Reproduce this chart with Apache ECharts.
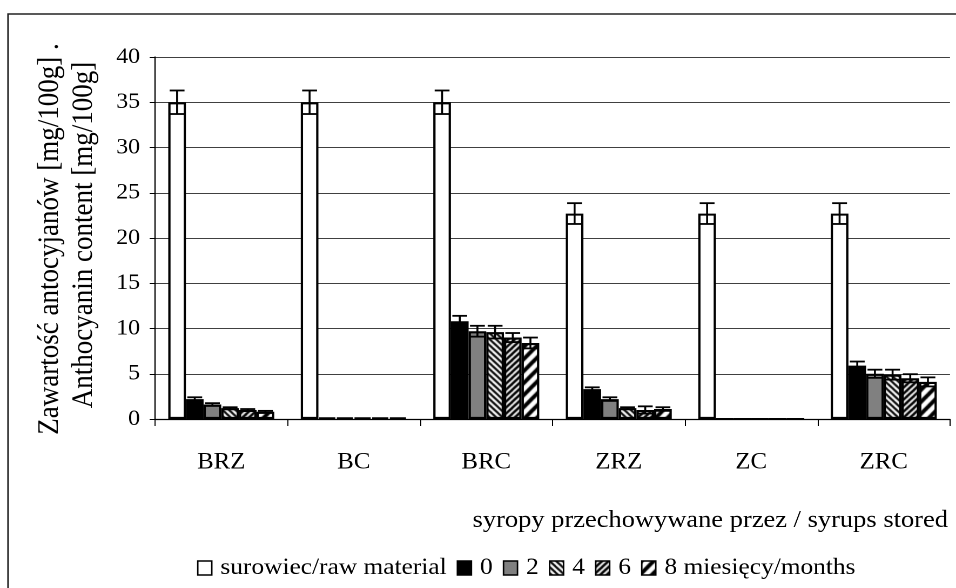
<!DOCTYPE html>
<html><head><meta charset="utf-8">
<script src="https://cdn.jsdelivr.net/npm/echarts@6/dist/echarts.min.js"></script>
<style>
html,body{margin:0;padding:0;background:#fff;overflow:hidden;width:956px;height:588px}
#c{width:885px;height:588px;transform:scaleX(1.08023);transform-origin:0 0}
</style>
</head><body><div id="c"></div>
<script>
const categories = ['BRZ', 'BC', 'BRC', 'ZRZ', 'ZC', 'ZRC'];
const seriesNames = ['surowiec/raw material', '0', '2', '4', '6', '8 miesięcy/months'];
const rawVals = [35, 35, 35, 22.7, 22.7, 22.7];
const rawErr = [1.3, 1.3, 1.3, 1.15, 1.15, 1.15];
const m0Vals = [2.2, 0.15, 10.8, 3.3, 0, 5.9];
const m0Err = [0.2, 0, 0.6, 0.2, 0, 0.45];
const m2Vals = [1.6, 0.15, 9.7, 2.2, 0, 5.0];
const m2Err = [0.15, 0, 0.6, 0.2, 0, 0.45];
const m4Vals = [1.2, 0.15, 9.6, 1.2, 0, 4.9];
const m4Err = [0.1, 0, 0.7, 0.1, 0, 0.55];
const m6Vals = [1.0, 0.15, 9.0, 1.0, 0, 4.5];
const m6Err = [0.1, 0, 0.5, 0.4, 0, 0.45];
const m8Vals = [0.8, 0.15, 8.4, 1.1, 0, 4.1];
const m8Err = [0.1, 0, 0.6, 0.2, 0, 0.5];
const yTicks = [0, 5, 10, 15, 20, 25, 30, 35, 40];

const vals = [rawVals, m0Vals, m2Vals, m4Vals, m6Vals, m8Vals];
const errs = [rawErr, m0Err, m2Err, m4Err, m6Err, m8Err];

const SX = 956 / 885; // slight horizontal stretch of the page, as in the source picture
function px(x) { return x / SX; }

function pat(w, h, draw) {
  const c = document.createElement('canvas');
  c.width = w; c.height = h;
  const g = c.getContext('2d');
  g.fillStyle = '#fff'; g.fillRect(0, 0, w, h);
  g.strokeStyle = '#000';
  draw(g, w, h);
  return c;
}
// 4: "\" stripes
const p4 = pat(6, 6, (g, w, h) => {
  g.lineWidth = 2;
  for (let k = -1; k <= 1; k++) { g.beginPath(); g.moveTo(k * w - 1, -1); g.lineTo(k * w + w + 1, h + 1); g.stroke(); }
});
// 6: "/" stripes, dense
const p6 = pat(6, 6, (g, w, h) => {
  g.lineWidth = 2.4;
  for (let k = -1; k <= 1; k++) { g.beginPath(); g.moveTo(k * w - 1, h + 1); g.lineTo(k * w + w + 1, -1); g.stroke(); }
});
// 8: wide "/" stripes
const p8 = pat(11, 12, (g, w, h) => {
  g.lineWidth = 3.8;
  for (let k = -1; k <= 1; k++) { g.beginPath(); g.moveTo(k * w - 2, h + 2.2); g.lineTo(k * w + w + 2, -2.2); g.stroke(); }
});

const fills = ['#ffffff', '#000000', '#808080', { image: p4, repeat: 'repeat' }, { image: p6, repeat: 'repeat' }, { image: p8, repeat: 'repeat' }];
const FONT = 'Liberation Serif';
const N = 6, CAT_GAP = 0.2;

const series = [];
for (let i = 0; i < N; i++) {
  series.push({
    name: seriesNames[i], type: 'bar', data: vals[i],
    barGap: '0%', barCategoryGap: '20%',
    itemStyle: { color: fills[i], borderColor: '#000', borderWidth: 2.1 },
    emphasis: { disabled: true }, z: 2
  });
}
for (let i = 0; i < N; i++) {
  const d = categories.map((c, j) => [j, vals[i][j], errs[i][j]]);
  series.push({
    type: 'custom', name: 'err' + i, data: d, z: 5, silent: true,
    encode: { x: 0, y: 1 },
    renderItem: (params, api) => {
      const c = api.value(0), v = api.value(1), e = api.value(2);
      if (!e) return;
      const band = api.size([1, 0])[0];
      const w = band * (1 - CAT_GAP) / N;
      const cx = api.coord([c, 0])[0] - band * (1 - CAT_GAP) / 2 + w * (i + 0.5);
      const yT = api.coord([c, v + e])[1], yB = api.coord([c, v - e])[1];
      const hw = w * 0.42;
      const st = { stroke: '#000', lineWidth: 1.8 };
      return { type: 'group', children: [
        { type: 'line', shape: { x1: cx, y1: yT, x2: cx, y2: yB }, style: st },
        { type: 'line', shape: { x1: cx - hw, y1: yT, x2: cx + hw, y2: yT }, style: st },
        { type: 'line', shape: { x1: cx - hw, y1: yB, x2: cx + hw, y2: yB }, style: st }
      ]};
    }
  });
}

const chart = echarts.init(document.getElementById('c'), null, { renderer: 'canvas', devicePixelRatio: 2 });
chart.setOption({
  animation: false,
  backgroundColor: '#fff',
  textStyle: { fontFamily: FONT },
  grid: { left: px(155), right: px(6), top: 57, bottom: 169 },
  legend: {
    data: seriesNames, left: px(197), top: 556, padding: 0,
    itemWidth: px(14), itemHeight: 14, itemGap: px(10),
    icon: 'rect', selectedMode: false,
    textStyle: { fontFamily: FONT, fontSize: 23.5, color: '#000', padding: [0, 0, 0, 3] },
    itemStyle: { borderColor: '#000', borderWidth: 1.4 }
  },
  xAxis: {
    type: 'category', data: categories,
    axisLine: { lineStyle: { color: '#000', width: 1.2 } },
    axisTick: { show: true, length: 7, lineStyle: { color: '#000' } },
    axisLabel: { fontFamily: FONT, fontSize: 23, color: '#000', margin: 32 }
  },
  yAxis: {
    type: 'value', min: 0, max: 40, interval: 5,
    axisLine: { show: true, lineStyle: { color: '#000', width: 1.2 } },
    axisTick: { show: true, length: 5, lineStyle: { color: '#000' } },
    axisLabel: { fontFamily: FONT, fontSize: 22, color: '#000', margin: px(15),
      formatter: v => yTicks.indexOf(v) >= 0 ? String(v) : '' },
    splitLine: { lineStyle: { color: '#404040', width: 1 } }
  },
  graphic: [
    { type: 'rect', shape: { x: px(8), y: 14, width: 950, height: 620 }, style: { fill: 'none', stroke: '#222', lineWidth: 1.4 }, silent: true, z: 0 },
    { type: 'text', x: px(50), y: 239, rotation: Math.PI / 2, style: { text: 'Zawartość antocyjanów [mg/100g] .', font: '27px "Liberation Serif"', fill: '#000', align: 'center', verticalAlign: 'middle' } },
    { type: 'text', x: px(84), y: 235, rotation: Math.PI / 2, style: { text: 'Anthocyanin content [mg/100g]', font: '27px "Liberation Serif"', fill: '#000', align: 'center', verticalAlign: 'middle' } },
    { type: 'text', right: px(8), top: 508, style: { text: 'syropy przechowywane przez / syrups stored', font: '24.5px "Liberation Serif"', fill: '#000' } }
  ],
  series: series
});
</script></body></html>
